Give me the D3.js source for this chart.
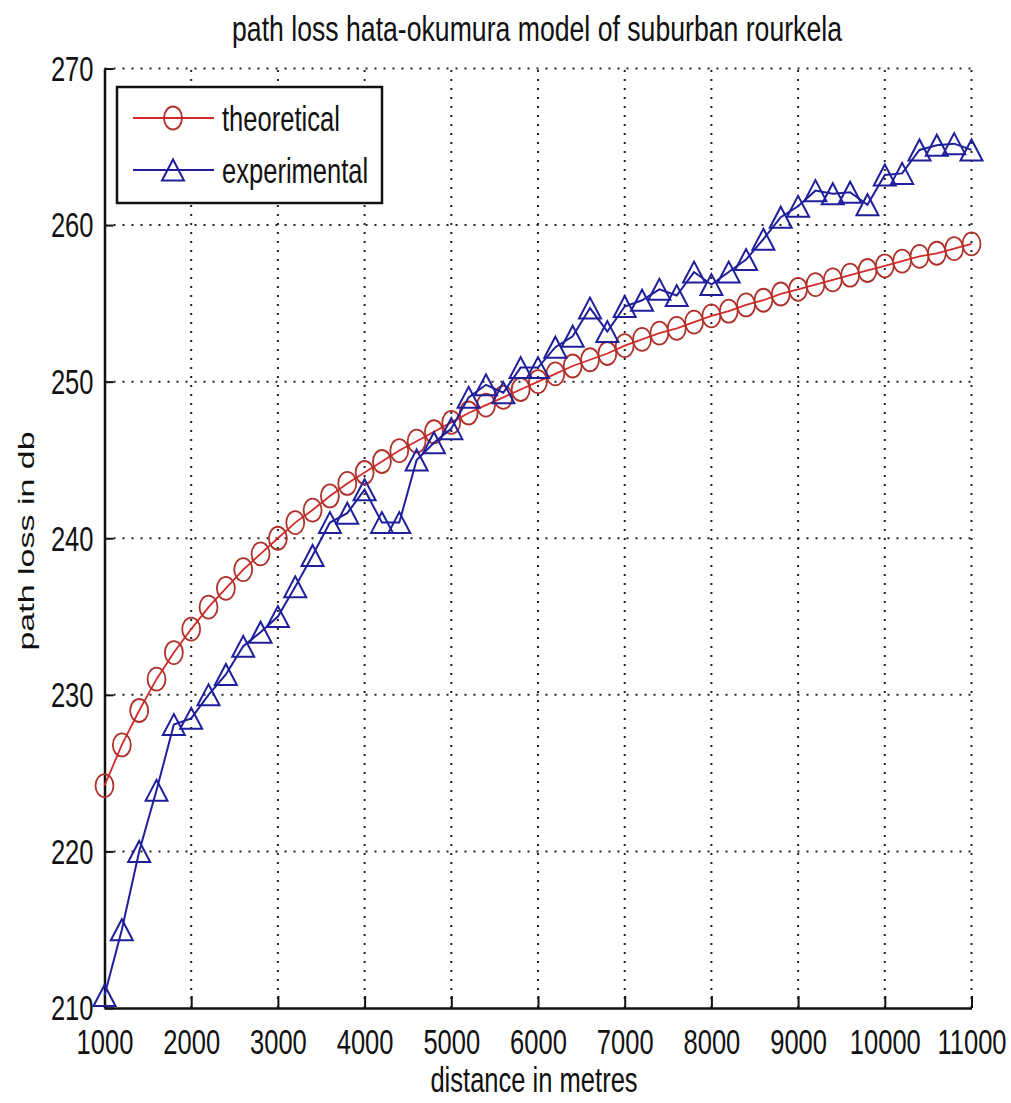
<!doctype html>
<html lang="en">
<head>
    <meta charset="UTF-8">
    <title>path loss hata-okumura model of suburban rourkela</title>
    <script src="https://d3js.org/d3.v7.min.js"></script>
    <style>
        body { margin: 0; background: #fff; }
        svg { display: block; background: #fff; }
        text { font-family: "Liberation Sans", Arial, sans-serif; fill: #111; }
    </style>
</head>
<body>
<script>
    var width = 1011;
    var height = 1103;

    // distance in metres (every 200 m)
    var distance = d3.range(1000, 11001, 200);

    // values
    var theoretical = [
        224.2, 226.8, 229.0, 231.0, 232.7, 234.2, 235.6, 236.8, 238.0, 239.0,
        240.0, 241.0, 241.8, 242.7, 243.5, 244.2, 244.9, 245.6, 246.2, 246.8,
        247.4, 248.0, 248.5, 249.0, 249.5, 250.0, 250.5, 251.0, 251.4, 251.8,
        252.3, 252.7, 253.1, 253.4, 253.8, 254.2, 254.5, 254.9, 255.2, 255.6,
        255.9, 256.2, 256.5, 256.8, 257.1, 257.4, 257.7, 258.0, 258.2, 258.5,
        258.8
    ];
    var experimental = [
        210.8, 215.0, 220.0, 223.9, 228.1, 228.5, 230.0, 231.3, 233.1, 234.0,
        235.0, 236.9, 238.9, 241.0, 241.6, 243.1, 241.0, 241.0, 245.0, 246.1,
        247.0, 249.0, 249.8, 249.3, 250.9, 250.9, 252.2, 252.9, 254.7, 253.2,
        254.8, 255.2, 255.9, 255.5, 257.0, 256.2, 257.0, 257.8, 259.1, 260.5,
        261.2, 262.2, 262.0, 262.1, 261.3, 263.2, 263.3, 264.8, 265.1, 265.2,
        264.8
    ];

    var xTicks = [1000, 2000, 3000, 4000, 5000, 6000, 7000, 8000, 9000, 10000, 11000];
    var yTicks = [210, 220, 230, 240, 250, 260, 270];
    var seriesNames = ['theoretical', 'experimental'];

    var red = '#d42a2a';
    var blue = '#1f1f9c';
    var sx = 0.71; // the picture's text is squeezed horizontally

    var x = d3.scaleLinear().domain([1000, 11000]).range([104.5, 971.5]);
    var y = d3.scaleLinear().domain([210, 270]).range([1008, 68.5]);

    var svg = d3.select('body').append('svg')
        .attr('width', width)
        .attr('height', height);

    // dotted grid
    var grid = svg.append('g').attr('class', 'grid')
        .attr('stroke', '#222')
        .attr('stroke-width', 2)
        .attr('stroke-dasharray', '2,7');

    grid.selectAll('line.gx')
        .data(xTicks.slice(1))
        .enter().append('line')
        .attr('class', 'gx')
        .attr('x1', function(d){ return x(d); })
        .attr('x2', function(d){ return x(d); })
        .attr('y1', y(210))
        .attr('y2', y(270));

    grid.selectAll('line.gy')
        .data(yTicks.slice(1))
        .enter().append('line')
        .attr('class', 'gy')
        .attr('y1', function(d){ return y(d); })
        .attr('y2', function(d){ return y(d); })
        .attr('x1', x(1000))
        .attr('x2', x(11000));

    // axes
    var xAxis = svg.append('g')
        .attr('transform', 'translate(0,' + y(210) + ')')
        .call(d3.axisBottom(x).tickValues(xTicks).tickSizeInner(-12).tickSizeOuter(0).tickPadding(20).tickFormat(d3.format('d')));

    var yAxis = svg.append('g')
        .attr('transform', 'translate(' + x(1000) + ',0)')
        .call(d3.axisLeft(y).tickValues(yTicks).tickSizeInner(-9).tickSizeOuter(0).tickFormat(d3.format('d')));

    svg.selectAll('.domain').attr('stroke', '#111').attr('stroke-width', 2.5);
    svg.selectAll('.tick line').attr('stroke', '#111').attr('stroke-width', 2);

    xAxis.selectAll('text')
        .attr('font-size', 36)
        .attr('fill', '#111')
        .attr('transform', 'scale(' + sx + ',1)');

    yAxis.selectAll('text')
        .attr('font-size', 36)
        .attr('fill', '#111')
        .attr('x', -11 / sx)
        .attr('dy', '0.33em')
        .attr('transform', 'scale(' + sx + ',1)');

    // lines
    var line = function(vals){
        return d3.line()
            .x(function(d, i){ return x(distance[i]); })
            .y(function(d){ return y(d); })(vals);
    };

    function triangle(cx, cy){
        var w = 11, h = 10.5;
        return 'M' + (cx - w) + ',' + (cy + h) + 'L' + cx + ',' + (cy - h) + 'L' + (cx + w) + ',' + (cy + h) + 'Z';
    }

    svg.append('path')
        .attr('d', line(theoretical))
        .attr('fill', 'none')
        .attr('stroke', red)
        .attr('stroke-width', 1.8);

    svg.append('g').selectAll('ellipse')
        .data(theoretical)
        .enter().append('ellipse')
        .attr('cx', function(d, i){ return x(distance[i]); })
        .attr('cy', function(d){ return y(d); })
        .attr('rx', 9)
        .attr('ry', 11.5)
        .attr('fill', 'none')
        .attr('stroke', '#b0302a')
        .attr('stroke-width', 1.8);

    svg.append('path')
        .attr('d', line(experimental))
        .attr('fill', 'none')
        .attr('stroke', blue)
        .attr('stroke-width', 2);

    svg.append('g').selectAll('path')
        .data(experimental)
        .enter().append('path')
        .attr('d', function(d, i){ return triangle(x(distance[i]), y(d)); })
        .attr('fill', 'none')
        .attr('stroke', blue)
        .attr('stroke-width', 2);

    // legend
    var legend = svg.append('g');
    legend.append('rect')
        .attr('x', 117).attr('y', 87)
        .attr('width', 265).attr('height', 116)
        .attr('fill', '#fff')
        .attr('stroke', '#111')
        .attr('stroke-width', 2.5);

    var legY = [118, 170];
    legend.append('line')
        .attr('x1', 133).attr('x2', 214).attr('y1', legY[0]).attr('y2', legY[0])
        .attr('stroke', red).attr('stroke-width', 1.8);
    legend.append('ellipse')
        .attr('cx', 173).attr('cy', legY[0]).attr('rx', 9).attr('ry', 11.5)
        .attr('fill', 'none').attr('stroke', '#b0302a').attr('stroke-width', 1.8);
    legend.append('line')
        .attr('x1', 133).attr('x2', 214).attr('y1', legY[1]).attr('y2', legY[1])
        .attr('stroke', blue).attr('stroke-width', 2);
    legend.append('path')
        .attr('d', triangle(173, legY[1]))
        .attr('fill', 'none').attr('stroke', blue).attr('stroke-width', 2);

    legend.selectAll('text')
        .data(seriesNames)
        .enter().append('text')
        .attr('transform', function(d, i){ return 'translate(222,' + (legY[i] + 13) + ') scale(' + sx + ',1)'; })
        .attr('font-size', 36)
        .text(function(d){ return d; });

    // title and axis labels
    svg.append('text')
        .attr('transform', 'translate(537,41) scale(0.74,1)')
        .attr('text-anchor', 'middle')
        .attr('font-size', 36)
        .text('path loss hata-okumura model of suburban rourkela');

    svg.append('text')
        .attr('transform', 'translate(534,1092) scale(0.73,1)')
        .attr('text-anchor', 'middle')
        .attr('font-size', 35)
        .text('distance in metres');

    svg.append('text')
        .attr('transform', 'translate(34,541) rotate(-90) scale(1,0.64)')
        .attr('text-anchor', 'middle')
        .attr('font-size', 34)
        .text('path loss in db');
</script>
</body>
</html>
